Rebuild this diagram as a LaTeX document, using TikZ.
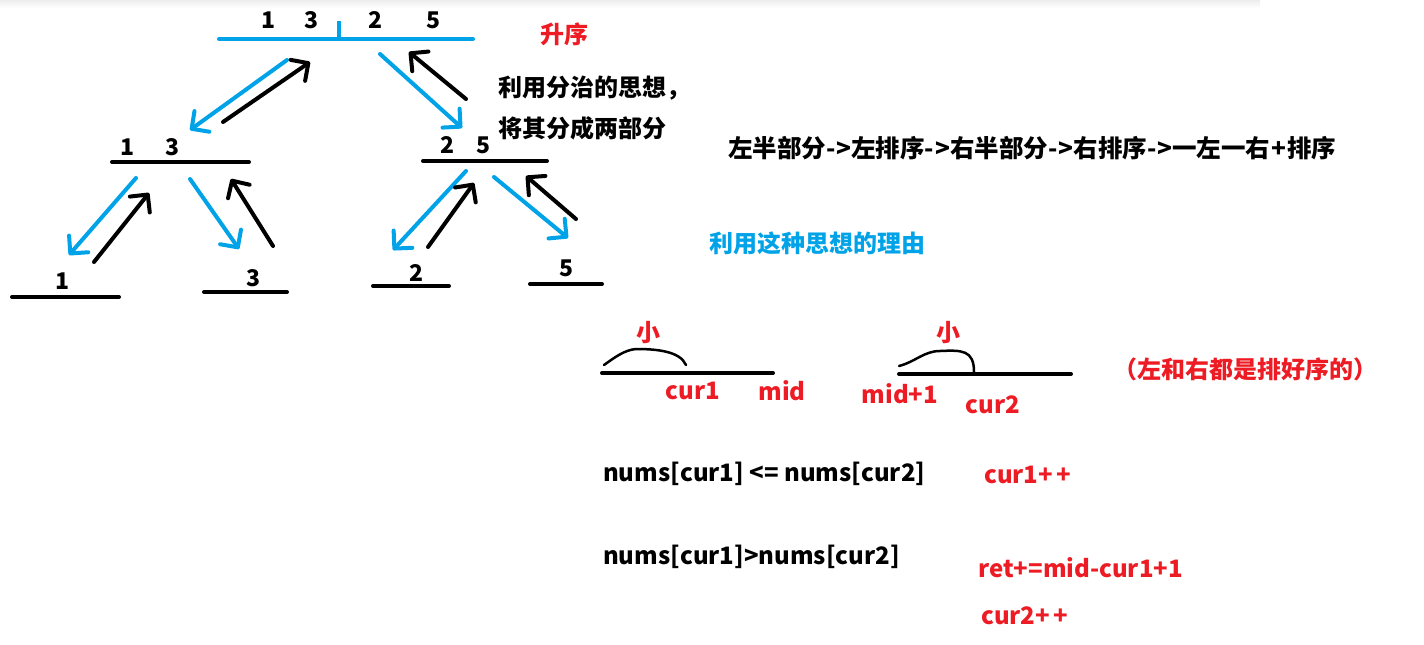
\documentclass[tikz,border=0pt]{standalone}
\usepackage{fontspec}
\newfontfamily\cjk{Noto Sans CJK SC}
\usetikzlibrary{arrows.meta}
\definecolor{pblue}{HTML}{00A2E8}
\definecolor{pred}{HTML}{ED1C24}
\begin{document}
\begin{tikzpicture}[x=1pt,y=-1pt,
  bar/.style={line width=4pt, line cap=round},
  arr/.style={line width=4pt, line cap=round, line join=round, -{Straight Barb[angle=90:18pt, round]}},
  hand/.style={line width=2.5pt, line cap=round},
  dig/.style={font=\cjk\bfseries\fontsize{23}{27}\selectfont, inner sep=0pt},
  txt/.style={font=\cjk\bfseries\fontsize{24}{29}\selectfont, inner sep=0pt},
  ltxt/.style={txt, anchor=west},
]
\useasboundingbox (0,0) rectangle (1424,645);
\shade[top color=black!7, bottom color=white, draw=none] (0,0) rectangle (1260,8);

% ---- tree bars ----
\coordinate (ta) at (219,39); \coordinate (tb) at (473,39);
\coordinate (tk1) at (339,21); \coordinate (tk2) at (339,39);
\draw[bar, pblue] (ta) -- (tb);
\draw[bar, pblue, line cap=butt] (tk1) -- (tk2);
\coordinate (ma1) at (112,162); \coordinate (mb1) at (249,162);
\coordinate (ma2) at (423,161); \coordinate (mb2) at (547,161);
\draw[bar] (ma1) -- (mb1);
\draw[bar] (ma2) -- (mb2);
\coordinate (ba1) at (12,297);  \coordinate (bb1) at (119,297);
\coordinate (ba2) at (204,292); \coordinate (bb2) at (287,292);
\coordinate (ba3) at (373,286); \coordinate (bb3) at (449,286);
\coordinate (ba4) at (530,284); \coordinate (bb4) at (602,284);
\draw[bar] (ba1) -- (bb1);
\draw[bar] (ba2) -- (bb2);
\draw[bar] (ba3) -- (bb3);
\draw[bar] (ba4) -- (bb4);

% ---- digits ----
\node[dig] (d1) at (268,20) {1};
\node[dig] (d3) at (311,20) {3};
\node[dig] (d2) at (375,20) {2};
\node[dig] (d5) at (433,20) {5};
\node[dig] (l1) at (128,147) {1};
\node[dig] (l3) at (173,147) {3};
\node[dig] (r2) at (447,145) {2};
\node[dig] (r5) at (483,145) {5};
\node[dig] (e1) at (63,281) {1};
\node[dig] (e3) at (253,278) {3};
\node[dig] (e2) at (416,273) {2};
\node[dig] (e5) at (566,268) {5};

% ---- arrows ----
\coordinate (a1s) at (287,60);  \coordinate (a1e) at (190,130);
\coordinate (a2s) at (223,122); \coordinate (a2e) at (310,62);
\coordinate (a3s) at (380,54);  \coordinate (a3e) at (462,128);
\coordinate (a4s) at (466,99);  \coordinate (a4e) at (409,52);
\coordinate (a5s) at (136,178); \coordinate (a5e) at (69,255);
\coordinate (a6s) at (94,262);  \coordinate (a6e) at (149,193);
\coordinate (a7s) at (190,179); \coordinate (a7e) at (239,249);
\coordinate (a8s) at (273,246); \coordinate (a8e) at (231,179);
\coordinate (a9s) at (466,171); \coordinate (a9e) at (393,250);
\coordinate (a10s) at (428,247); \coordinate (a10e) at (474,183);
\coordinate (a11s) at (494,177); \coordinate (a11e) at (568,238);
\coordinate (a12s) at (576,219); \coordinate (a12e) at (526,176);
\draw[arr, pblue] (a1s) -- (a1e);
\draw[arr] (a2s) -- (a2e);
\draw[arr, pblue] (a3s) -- (a3e);
\draw[arr] (a4s) -- (a4e);
\draw[arr, pblue] (a5s) -- (a5e);
\draw[arr] (a6s) -- (a6e);
\draw[arr, pblue] (a7s) -- (a7e);
\draw[arr] (a8s) -- (a8e);
\draw[arr, pblue] (a9s) -- (a9e);
\draw[arr] (a10s) -- (a10e);
\draw[arr, pblue] (a11s) -- (a11e);
\draw[arr] (a12s) -- (a12e);

% ---- texts top ----
\node[txt, text=pred] (asc) at (564,34) {升序};
\node[ltxt] (idea1) at (498,88) {利用分治的思想，};
\node[ltxt] (idea2) at (498,128) {将其分成两部分};
\node[ltxt, font=\cjk\bfseries\fontsize{24.5}{29}\selectfont] (flow) at (728,148) {左半部分-\kern1pt>左排序-\kern1pt>右半部分-\kern1pt>右排序-\kern1pt>一左一右\kern1pt+\kern1pt排序};
\node[ltxt, text=pblue] (why) at (709,243) {利用这种思想的理由};

% ---- two sorted halves ----
\coordinate (h1a) at (602,373); \coordinate (h1b) at (773,373);
\coordinate (h2a) at (899,374); \coordinate (h2b) at (1071,374);
\draw[bar, line width=4pt] (h1a) -- (h1b);
\draw[bar, line width=4pt] (h2a) -- (h2b);
\draw[hand] (604,365) .. controls (614,358) and (624,350) .. (636,349)
  .. controls (656,349) and (680,351) .. (686,365);
\draw[hand] (899,366) .. controls (915,362) and (924,351) .. (940,351)
  .. controls (962,350) and (974,350) .. (974,372);
\node[txt, text=pred] (x1) at (648,333) {小};
\node[txt, text=pred] (x2) at (948,333) {小};
\node[txt, text=pred] (cur1) at (693,391) {cur1};
\node[txt, text=pred] (mid) at (782,391) {mid};
\node[txt, text=pred] (mid1) at (900,394) {mid+1};
\node[txt, text=pred] (cur2) at (993,405) {cur2};
\node[txt, text=pred] (note) at (1245,369) {（左和右都是排好序的）};

% ---- rules ----
\node[ltxt] (cmp1) at (603,474) {nums[cur1] <= nums[cur2]};
\node[ltxt, text=pred] (inc1) at (984,475) {cur1+\kern3pt+};
\node[ltxt] (cmp2) at (603,557) {nums[cur1]>nums[cur2]};
\node[ltxt, text=pred] (ret) at (978,568) {ret+=mid-cur1+1};
\node[ltxt, text=pred] (inc2) at (981,616) {cur2+\kern3pt+};
\end{tikzpicture}
\end{document}
